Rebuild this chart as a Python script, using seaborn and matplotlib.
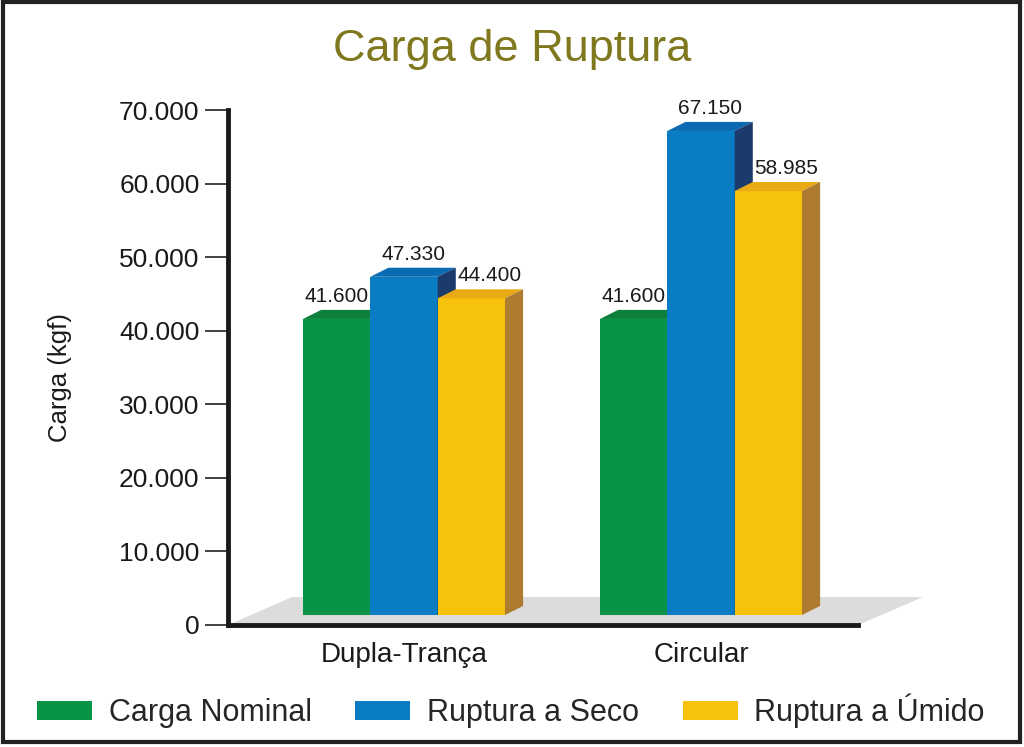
import pandas as pd
import seaborn as sns
import matplotlib
matplotlib.use("Agg")
import matplotlib.pyplot as plt
from matplotlib.patches import Polygon, Rectangle, Patch

# dados
tipos = ["Dupla-Trança", "Circular"]
series = ["Carga Nominal", "Ruptura a Seco", "Ruptura a Úmido"]
carga_nominal = [41600, 41600]
ruptura_seco = [47330, 67150]
ruptura_umido = [44400, 58985]

y_ticks = [0, 10000, 20000, 30000, 40000, 50000, 60000, 70000]
y_tick_labels = ["0", "10.000", "20.000", "30.000", "40.000", "50.000", "60.000", "70.000"]

front_colors = ["#089447", "#0A7CC4", "#F7C20C"]
top_colors = ["#0B7F3B", "#0B6BB2", "#E8AA15"]
side_colors = ["#06642E", "#1B3B6C", "#AE7C30"]

df = pd.DataFrame({
    "tipo": tipos * 3,
    "serie": [s for s in series for _ in tipos],
    "carga": carga_nominal + ruptura_seco + ruptura_umido,
})

sns.set_style("white")
plt.rcParams["font.family"] = ["Liberation Sans", "DejaVu Sans"]

fig = plt.figure(figsize=(10.24, 7.47), dpi=100)
ax = fig.add_axes([228 / 1024, 122 / 747, 630 / 1024, 515 / 747])

sns.barplot(data=df, x="tipo", y="carga", hue="serie", order=tipos, hue_order=series,
            palette=front_colors, saturation=1, width=0.68, legend=False, ax=ax,
            edgecolor="none", linewidth=0)

ax.set_xlim(-0.5926, 1.5286)
ax.set_ylim(0, 70000)

# pseudo-3D: profundidade das barras
dx = 0.061
dy = 1230
base = 1360

# piso cinza
floor = Polygon([(-0.5926, 0), (-0.377, 3800), (1.747, 3800), (1.5286, 0)],
                closed=True, facecolor="#DCDCDC", edgecolor="none", zorder=1, clip_on=False)
ax.add_patch(floor)

for i, cont in enumerate(ax.containers):
    for bar in cont:
        x0 = bar.get_x()
        w = bar.get_width()
        h = bar.get_height()
        bar.set_y(base)
        bar.set_height(h - base)
        bar.set_zorder(3 + i)
        top = Polygon([(x0, h), (x0 + dx, h + dy), (x0 + w + dx, h + dy), (x0 + w, h)],
                      closed=True, facecolor=top_colors[i], edgecolor="none",
                      zorder=3 + i, clip_on=False)
        side = Polygon([(x0 + w, base), (x0 + w + dx, base + dy), (x0 + w + dx, h + dy), (x0 + w, h)],
                       closed=True, facecolor=side_colors[i], edgecolor="none",
                       zorder=3 + i, clip_on=False)
        ax.add_patch(top)
        ax.add_patch(side)
        ax.annotate(f"{int(h):,}".replace(",", "."), (x0 + w / 2 + i * dx / 2, h + dy),
                    xytext=(0, 3), textcoords="offset points", ha="center", va="bottom",
                    fontsize=15, color="#1a1a1a", zorder=10)

ax.set_yticks(y_ticks)
ax.set_yticklabels(y_tick_labels, fontsize=19, color="#1a1a1a")
ax.set_xticks(range(len(tipos)))
ax.set_xticklabels(tipos, fontsize=20, color="#1a1a1a")
ax.tick_params(axis="y", left=True, length=16.5, width=1.3, color="#333333", pad=4)
ax.tick_params(axis="x", bottom=False, length=0, pad=12)
ax.set_xlabel("")
ax.set_ylabel("")

sns.despine(ax=ax)
for s in ["left", "bottom"]:
    ax.spines[s].set_linewidth(3.5)
    ax.spines[s].set_color("#1a1a1a")
    ax.spines[s].set_zorder(2)

fig.text(512 / 1024, 1 - 50 / 747, "Carga de Ruptura", ha="center", va="center",
         fontsize=32.5, color="#7F781E")
fig.text(60 / 1024, 1 - 378 / 747, "Carga (kgf)", ha="center", va="center",
         rotation=90, fontsize=18.5, color="#1a1a1a")

handles = [Patch(facecolor=c, edgecolor="none") for c in front_colors]
fig.legend(handles, series, loc="center", bbox_to_anchor=(511 / 1024, 1 - 711 / 747),
           ncol=3, frameon=False, fontsize=22, handlelength=1.8, handleheight=0.6,
           handletextpad=0.55, columnspacing=1.42)

fig.patches.append(Rectangle((0.003, 0.0067), 0.993, 0.9906, transform=fig.transFigure,
                             fill=False, linewidth=3, edgecolor="#222222"))

fig.savefig("out.png", dpi=100)
